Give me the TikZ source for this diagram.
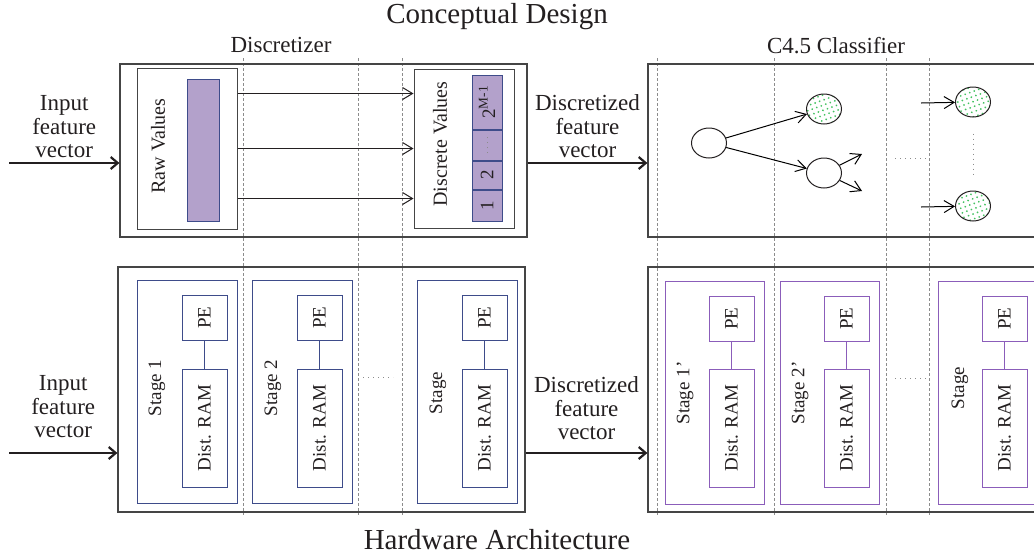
\documentclass[tikz,border=0pt]{standalone}
\usepackage{fontspec}
\setmainfont{Liberation Serif}
\usepackage{graphicx}
\usetikzlibrary{positioning,shapes.geometric,patterns.meta,arrows.meta}
\definecolor{ink}{HTML}{231F20}
\definecolor{frameline}{HTML}{454545}
\definecolor{guideline}{HTML}{8C8C8C}
\definecolor{navyline}{HTML}{3E4C8A}
\definecolor{purpline}{HTML}{8B5DBA}
\definecolor{lilac}{HTML}{B3A1CB}
\definecolor{leafdot}{HTML}{44C261}
\newcommand{\vlabel}[1]{\rotatebox{90}{#1}}
\tikzstyle{frame} = [draw=frameline, rectangle, line width=0.6pt, inner sep=0pt]
\tikzstyle{holder} = [draw=frameline, rectangle, line width=0.5pt, minimum width=50pt, inner sep=0pt]
\tikzstyle{bar} = [draw=navyline, fill=lilac, rectangle, line width=0.5pt, minimum width=15pt, inner sep=0pt, font=\fontsize{9.5}{10}\selectfont]
\tikzstyle{stage} = [draw=navyline, rectangle, line width=0.5pt, minimum width=50pt, minimum height=111.5pt, inner sep=0pt]
\tikzstyle{pe} = [draw=navyline, rectangle, line width=0.5pt, minimum width=22.5pt, minimum height=22.5pt, inner sep=0pt, font=\fontsize{9.5}{10}\selectfont]
\tikzstyle{ram} = [pe, minimum height=59pt]
\tikzstyle{stageP} = [stage, draw=purpline, minimum width=49.5pt]
\tikzstyle{peP} = [pe, draw=purpline]
\tikzstyle{ramP} = [ram, draw=purpline]
\tikzstyle{tnode} = [draw=ink, ellipse, line width=0.5pt, minimum width=17.5pt, minimum height=15pt, inner sep=0pt]
\tikzstyle{leaf} = [tnode, pattern={Dots[distance=2.4pt, radius=0.5pt, angle=20]}, pattern color=leafdot]
\tikzstyle{lbl} = [align=center, font=\fontsize{11.5}{11.8}\selectfont, inner sep=2pt]
\tikzstyle{vtxt} = [font=\fontsize{9.5}{10}\selectfont, inner sep=0pt]
\tikzstyle{guide} = [draw=guideline, dash pattern=on 1.5pt off 1pt, line width=0.4pt]
\tikzstyle{ellip} = [draw=guideline, dotted, line width=0.5pt]
\tikzstyle{bigarrow} = [->, >={Straight Barb[length=3.5pt,width=6pt]}, line width=1.1pt, draw=ink]

\begin{document}
\begin{tikzpicture}[x=0.5pt, y=-0.5pt, >={Straight Barb[length=5pt,width=6pt]}, text=ink]
\clip (0,0) rectangle (1034,558);

\node [lbl, font=\fontsize{14.5}{15}\selectfont] (concept) at (497,17) {Conceptual Design};
\node [lbl] (discr) at (281,45) {Discretizer};
\node [lbl] (clf) at (836,46) {C4.5 Classifier};
\node [lbl, font=\fontsize{14.5}{15}\selectfont] (hwarch) at (497,540) {Hardware Architecture};

\foreach \x in {243,358,402,657,774,886,929}
  \draw [guide] (\x,58) -- (\x,515);

\node [frame, minimum width=203.5pt, minimum height=86.5pt] (topL) at (323.5,150.5) {};
\node [frame, minimum width=196pt, minimum height=86.5pt] (topR) at (844,150.5) {};
\node [frame, minimum width=203.5pt, minimum height=122.5pt] (botL) at (321.5,389.5) {};
\node [frame, minimum width=196pt, minimum height=122.5pt] (botR) at (844,389.5) {};

\node [holder, minimum height=80.5pt] (raw) at (187,148.5) {};
\node [bar, minimum width=16pt, minimum height=71pt] (rawbar) at (203,150) {};
\node [vtxt, font=\fontsize{10}{11}\selectfont] (rawlbl) at (158,146) {\vlabel{Raw Values}};

\node [holder, minimum height=79.5pt] (disc) at (464,148.5) {};
\node [vtxt, font=\fontsize{10}{11}\selectfont] (disclbl) at (440,144) {\vlabel{Discrete Values}};
\node [bar, minimum height=15.5pt] (cell1) at (487,205.5) {\vlabel{1}};
\node [bar, minimum height=14pt, above=0pt of cell1] (cell2) {\vlabel{2}};
\node [bar, minimum height=15pt, above=0pt of cell2] (celldots) {};
\node [bar, minimum height=27pt, above=0pt of celldots] (cellM) {\vlabel{2\textsuperscript{M-1}}};
\draw [ellip] ([yshift=-4pt]celldots.center) -- ([yshift=4pt]celldots.center);

\foreach \dy in {27.5,0,-25}
  \draw [->, ink, line width=0.5pt] ([yshift=\dy pt]raw.east) -- ([yshift=\dy pt]disc.west);

\node [tnode] (root) at (709,143) {};
\node [leaf] (leafA) at (824,109) {};
\node [tnode] (inner) at (824,173) {};
\node [leaf] (leafB) at (973,102) {};
\node [leaf] (leafC) at (973,206) {};
\coordinate (innerup) at (862,154);
\coordinate (innerdn) at (862,191);
\coordinate (feedB) at (921,103);
\coordinate (feedC) at (921,207);
\draw [->, line width=0.5pt] (root) -- (leafA);
\draw [->, line width=0.5pt] (root) -- (inner);
\draw [->, line width=0.5pt] (inner) -- (innerup);
\draw [->, line width=0.5pt] (inner) -- (innerdn);
\draw [->, line width=0.5pt] (feedB) -- (leafB);
\draw [->, line width=0.5pt] (feedC) -- (leafC);
\draw [ellip] (895,158) -- (926,158);
\draw [ellip] ([yshift=-8pt]leafB.south) -- ([yshift=8pt]leafC.north);

\foreach \i/\x/\name/\lx/\ly in {1/187/Stage 1/157/388, 2/302/Stage 2/273/388, 3/467/Stage/438/393} {
  \node [stage] (sd\i) at (\x,391.5) {};
  \node [pe, xshift=8.75pt, yshift=37pt] (ped\i) at (sd\i.center) {\vlabel{PE}};
  \node [ram, below=14pt of ped\i] (ramd\i) {\vlabel{Dist. RAM}};
  \draw [navyline, line width=0.5pt] (ped\i) -- (ramd\i);
  \node [vtxt] (lbld\i) at (\lx,\ly) {\vlabel{\name}};
}
\draw [ellip] (363,377) -- (393,377);

\foreach \i/\x/\name/\lx/\ly in {1/714.5/Stage 1’/685/393, 2/829.5/Stage 2’/800/393, 3/987.5/Stage/960/388} {
  \node [stageP] (sc\i) at (\x,392.5) {};
  \node [peP, xshift=8.5pt, yshift=37pt] (pec\i) at (sc\i.center) {\vlabel{PE}};
  \node [ramP, below=13.5pt of pec\i] (ramc\i) {\vlabel{Dist. RAM}};
  \draw [purpline, line width=0.5pt] (pec\i) -- (ramc\i);
  \node [vtxt] (lblc\i) at (\lx,\ly) {\vlabel{\name}};
}
\draw [ellip] (895,378) -- (926,378);

\coordinate (inTop) at (9,163);
\coordinate (inBot) at (9,453);
\draw [bigarrow] (inTop) -- node [lbl, above] {Input\\feature\\vector} (inTop -| topL.west);
\draw [bigarrow] (inTop -| topL.east) -- node [lbl, above] {Discretized\\feature\\vector} (inTop -| topR.west);
\draw [bigarrow] (inBot) -- node [lbl, above=5pt] {Input\\feature\\vector} (inBot -| botL.west);
\draw [bigarrow] (inBot -| botL.east) -- node [lbl, above=4pt] {Discretized\\feature\\vector} (inBot -| botR.west);

\end{tikzpicture}
\end{document}
